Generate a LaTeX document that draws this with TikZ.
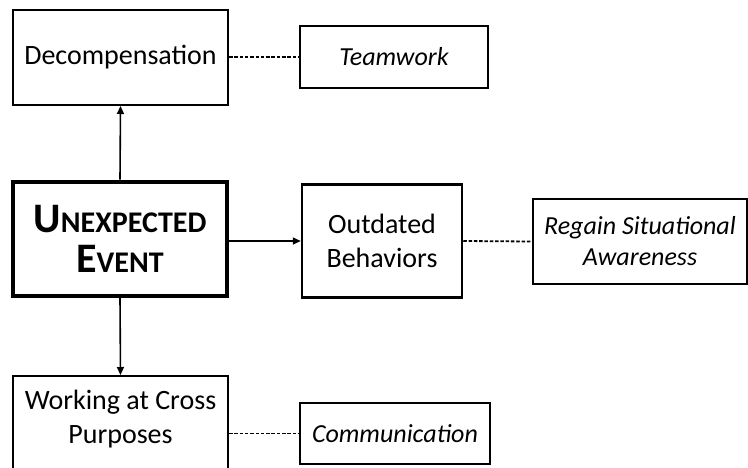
\documentclass[tikz,border=0pt]{standalone}
\usepackage{fontspec}
\setmainfont{Carlito}
\usetikzlibrary{arrows.meta}
\begin{document}
\begin{tikzpicture}[x=1pt,y=-1pt,
  box/.style={draw, line width=2pt, inner sep=0pt, align=center, font=\fontsize{28}{34}\selectfont},
  ibox/.style={box, font=\fontsize{26}{31}\selectfont\itshape},
  arr/.style={line width=1.6pt, -{Triangle[length=8pt,width=7pt]}},
  dsh/.style={line width=1.8pt, dash pattern=on 3.5pt off 1.8pt}]
\useasboundingbox (0,0) rectangle (748,467);
\begin{scope}
\clip (0,0) rectangle (748,467);
\node[box, minimum width=215pt, minimum height=95pt] (dec) at (120.5,57.5) {Decompensation};
\node[ibox, minimum width=188pt, minimum height=62pt] (team) at (394,57) {Teamwork};
\node[box, line width=4pt, minimum width=214pt, minimum height=114pt, font=\bfseries\fontsize{30}{40}\selectfont] (ue) at (120,238.5)
  {{\fontsize{42}{40}\selectfont U}NEXPECTED\hspace{4pt}\\{\fontsize{42}{40}\selectfont E}VENT\hspace{4pt}};
\node[box, line width=2.5pt, minimum width=160pt, minimum height=113pt] (out) at (382,241) {Outdated\\Behaviors};
\node[ibox, minimum width=214pt, minimum height=85pt] (rsa) at (640,241.5) {Regain Situational\\Awareness};
\node[draw, line width=2pt, minimum width=215pt, minimum height=130pt, anchor=north, inner sep=0pt] (workbox) at (120.5,375) {};
\node[align=center, font=\fontsize{28}{34}\selectfont] (work) at (120.5,419) {Working at Cross\\Purposes};
\node[ibox, minimum width=190pt, minimum height=61pt] (comm) at (395,433.5) {Communication};
\draw[arr] (ue.north) -- (dec.south);
\draw[arr] (ue.east |- out.west) -- (out.west);
\draw[arr] (ue.south) -- (workbox.north);
\draw[dsh] (dec.east |- team.west) -- (team.west);
\draw[dsh] (out.east) -- (rsa.west);
\draw[dsh] (workbox.east |- comm.west) -- (comm.west);
\end{scope}
\end{tikzpicture}
\end{document}
